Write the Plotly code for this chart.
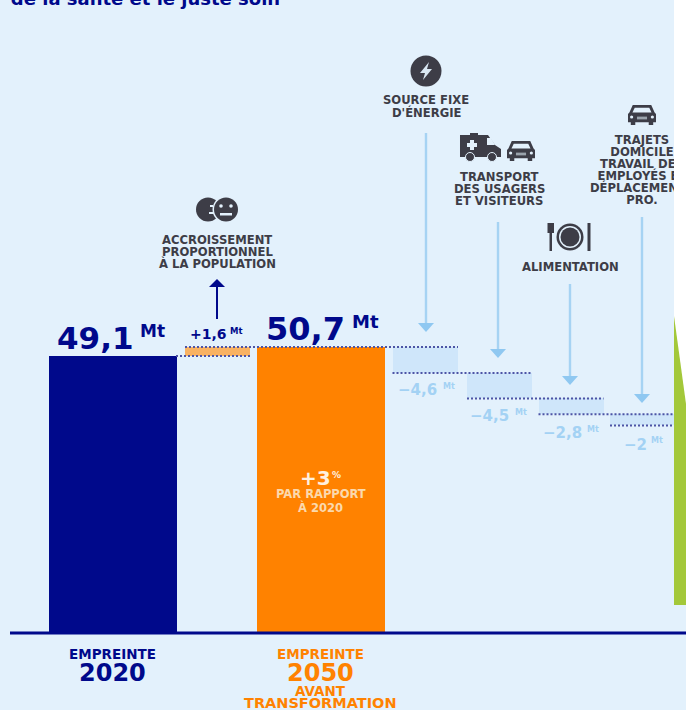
import plotly.graph_objects as go

# Carbon footprint figures, in Mt CO2e
start_label = "EMPREINTE 2020"
footprint_2020 = 49.1
growth_population = 1.6
footprint_2050 = 50.7
reduction_labels = ["SOURCE FIXE", "TRANSPORT", "ALIMENTATION", "TRAJETS"]
reduction_values = [-4.6, -4.5, -2.8, -2.0]
share_vs_2020 = "+3"

# Page and drawing constants
W, H = 686, 710
BASE_PY = 633
PX_PER_MT = 5.64

BG = "#e3f1fc"
NAVY = "#00098b"
ORANGE = "#ff8200"
LIGHT_ORANGE = "#f8b263"
STEP = "#cfe6fa"
ARROW = "#a6d3f3"
ARROW_HEAD = "#8fc8f1"
SOFT_LABEL = "#a3d2f4"
DOTS = "#4d55a6"
INK = "#3d3d47"
GREEN = "#a3c83a"
FONT = "DejaVu Sans"
CAPTION_SIZE = 11.6

# Horizontal extent of each bar
main_spans = [(49, 176.5), (257, 384.5)]
growth_span = (185, 250)
step_spans = [(392.5, 458), (467, 531.5), (538.5, 603.5), (610, 690)]


def px(x, y):
    return f"{x / W:.5f},{1 - y / H:.5f}"


def path(points, close=True):
    body = " L".join(px(x, y) for x, y in points)
    return "M" + body + (" Z" if close else "")


def polygon(points, color):
    return dict(type="path", xref="paper", yref="paper", path=path(points),
                fillcolor=color, line=dict(width=0), layer="above")


def box(x0, y0, x1, y1, color):
    return dict(type="rect", xref="paper", yref="paper", x0=x0 / W, x1=x1 / W,
                y0=1 - y0 / H, y1=1 - y1 / H, fillcolor=color,
                line=dict(width=0), layer="above")


def disc(cx, cy, r, color, ring=None, ring_width=0):
    return dict(type="circle", xref="paper", yref="paper",
                x0=(cx - r) / W, x1=(cx + r) / W,
                y0=1 - (cy + r) / H, y1=1 - (cy - r) / H, fillcolor=color,
                line=dict(width=ring_width, color=ring or color), layer="above")


def stroke(points, color, width):
    return dict(type="path", xref="paper", yref="paper", path=path(points, close=False),
                line=dict(color=color, width=width), layer="above")


def label(x, py, text, size, color=INK, weight=700, anchor="center"):
    return dict(xref="x", yref="paper", x=x, y=1 - py / H, text=text, showarrow=False,
                xanchor=anchor, yanchor="middle", align="center",
                font=dict(family=FONT, size=size, color=color, weight=weight))


def fr(value, decimals=1):
    return f"{value:.{decimals}f}".replace(".", ",")


def mid(span):
    return (span[0] + span[1]) / 2


def car(x0, y0, w, h, color=INK):
    xs = lambda t: x0 + t * w
    ys = lambda t: y0 + t * h
    return [
        polygon([(xs(.17), ys(0)), (xs(.83), ys(0)), (xs(.95), ys(.38)), (xs(1), ys(.45)),
                 (xs(1), ys(.86)), (xs(.9), ys(.86)), (xs(.9), ys(1)), (xs(.74), ys(1)),
                 (xs(.74), ys(.86)), (xs(.26), ys(.86)), (xs(.26), ys(1)), (xs(.1), ys(1)),
                 (xs(.1), ys(.86)), (xs(0), ys(.86)), (xs(0), ys(.45)), (xs(.05), ys(.38))], color),
        polygon([(xs(.24), ys(.14)), (xs(.76), ys(.14)), (xs(.84), ys(.38)), (xs(.16), ys(.38))], BG),
        box(xs(.32), ys(.58), xs(.68), ys(.72), "#9aa3ac"),
        disc(xs(.13), ys(.6), 1.6, BG),
        disc(xs(.87), ys(.6), 1.6, BG),
    ]


fig = go.Figure()

# Ground line, kept under the bars
fig.add_trace(go.Scatter(x=[10, W], y=[0, 0], mode="lines",
                         line=dict(color=NAVY, width=3), hoverinfo="skip"))

# Main bars
fig.add_trace(go.Bar(
    x=[mid(s) for s in main_spans],
    y=[footprint_2020, footprint_2050],
    width=[s[1] - s[0] for s in main_spans],
    marker=dict(color=[NAVY, ORANGE], line=dict(width=0)),
))

# Population growth step
fig.add_trace(go.Bar(
    x=[mid(growth_span)], y=[growth_population], base=[footprint_2020],
    width=[growth_span[1] - growth_span[0]],
    marker=dict(color=LIGHT_ORANGE, line=dict(width=0)),
))

# Reduction steps falling from the 2050 level
levels = [footprint_2050]
for v in reduction_values:
    levels.append(round(levels[-1] + v, 2))

fig.add_trace(go.Bar(
    x=[mid(s) for s in step_spans],
    y=reduction_values,
    base=levels[:-1],
    width=[s[1] - s[0] for s in step_spans],
    marker=dict(color=STEP, line=dict(width=0)),
))

# Dotted level guides
guides = [
    (growth_span[0] - 9, growth_span[1], footprint_2020),
    (growth_span[0], step_spans[0][1], footprint_2050),
]
for i, level in enumerate(levels[1:]):
    x_start = step_spans[i][0]
    x_end = step_spans[i + 1][1] if i + 1 < len(step_spans) else W
    guides.append((x_start, x_end, level))
for x0, x1, level in guides:
    fig.add_trace(go.Scatter(x=[x0, x1], y=[level, level], mode="lines",
                             line=dict(color=DOTS, width=2, dash="2px 2px"),
                             hoverinfo="skip"))

# Caption that runs under the white strip on the right edge
commute_lines = ["TRAJETS", "DOMICILE", "TRAVAIL DES", "EMPLOYÉS ET", "DÉPLACEMENTS", "PRO."]
commute_py = [141, 153, 165, 177, 189, 201]
fig.add_trace(go.Scatter(
    x=[642] * len(commute_lines),
    y=[(BASE_PY - p) / PX_PER_MT for p in commute_py],
    text=commute_lines, mode="text", textposition="middle center",
    textfont=dict(family=FONT, size=CAPTION_SIZE, color=INK, weight=700), hoverinfo="skip",
))

# Heading cut by the top of the page
fig.add_trace(go.Scatter(
    x=[145.5], y=[BASE_PY / PX_PER_MT], text=["de la santé et le juste soin"], mode="text",
    textposition="middle center",
    textfont=dict(family=FONT, size=18, color=NAVY, weight=700), hoverinfo="skip",
))

shapes = []

# Down arrows for each reduction
for x, top, tip in [(426, 133, 332), (498, 222, 358), (570, 284, 385), (642, 217, 403)]:
    shapes.append(stroke([(x, top), (x, tip - 6)], ARROW, 2.4))
    shapes.append(polygon([(x - 8, tip - 9), (x + 8, tip - 9), (x, tip)], ARROW_HEAD))

# Up arrow for population growth
shapes.append(stroke([(217, 319), (217, 284)], NAVY, 2))
shapes.append(polygon([(209, 287), (225, 287), (217, 279)], NAVY))

# Two faces
shapes += [
    disc(208, 209.5, 12, INK),
    box(210, 205, 213, 207, BG),
    box(209, 212, 214, 214, BG),
    disc(226, 209.5, 13.5, BG),
    disc(226, 209.5, 12, INK),
    disc(221, 206, 1.8, BG),
    disc(231, 206, 1.8, BG),
    box(220, 213, 232, 215.5, BG),
]

# Lightning bolt
shapes.append(disc(426, 71, 15.5, INK))
shapes.append(polygon([(429, 62), (420, 73), (425, 73), (423, 80), (432, 69), (427, 69)], "#d9e7f2"))

# Ambulance
shapes += [
    polygon([(460, 135), (488, 135), (495, 145), (501, 149), (501, 157), (460, 157)], INK),
    box(470, 133, 478, 136, INK),
    polygon([(487, 138), (491, 138), (495, 145), (487, 145)], BG),
    box(467, 143, 477, 147, BG),
    box(470, 140, 474, 150, BG),
    disc(470, 157, 4.5, INK, BG, 1),
    disc(492, 157, 4.5, INK, BG, 1),
]
shapes += car(507, 141, 28, 20)
shapes += car(628, 105, 28, 20)

# Plate and cutlery
shapes += [
    disc(570, 237, 13.5, INK),
    disc(570, 237, 11, BG),
    disc(570, 237, 9.5, INK),
    box(549.5, 223, 552, 251, INK),
    box(547.5, 223, 554, 233, INK),
    polygon([(587.5, 223), (590.5, 223), (590.5, 251), (587.5, 251)], INK),
]

# White strip and green wedge along the right edge
shapes += [
    box(674, 0, W, 605, "#ffffff"),
    polygon([(674, 316), (W, 404), (W, 605), (674, 605)], GREEN),
]

annotations = []

# Value labels over the two main bars
annotations += [
    label(mid(main_spans[0]) - 17, 338, fr(footprint_2020), 31, NAVY),
    label(138, 331, "Mt", 17, NAVY, anchor="left"),
    label(mid(main_spans[1]) - 15.5, 329, fr(footprint_2050), 32, NAVY),
    label(350, 321, "Mt", 18, NAVY, anchor="left"),
    label(208.5, 334, "+" + fr(growth_population), 14, NAVY),
    label(228, 331, "Mt", 8.5, NAVY, anchor="left"),
]

# Labels under the steps
step_label_spots = [(417, 390, 441, 386), (489, 416, 513, 412), (562, 433, 585, 429), (635, 445, 649, 441)]
for value, (x, py, unit_x, unit_py) in zip(reduction_values, step_label_spots):
    decimals = 0 if value == int(value) else 1
    annotations.append(label(x, py, "−" + fr(abs(value), decimals), 15, SOFT_LABEL))
    annotations.append(label(unit_x, unit_py, "Mt", 8, SOFT_LABEL, anchor="left"))

# Captions above the arrows
captions = [
    (217, [("ACCROISSEMENT", 240), ("PROPORTIONNEL", 252), ("À LA POPULATION", 264)]),
    (426, [("SOURCE FIXE", 100), ("D'ÉNERGIE", 112)]),
    (499, [("TRANSPORT", 177), ("DES USAGERS", 189), ("ET VISITEURS", 201)]),
    (570, [("ALIMENTATION", 267)]),
]
for x, rows in captions:
    for text, py in rows:
        annotations.append(label(x, py, text, CAPTION_SIZE))

# Text inside the orange bar
annotations += [
    label(315, 478, share_vs_2020, 20, "#fff1e0"),
    label(336, 475, "%", 9, "#fff1e0"),
    label(320.5, 494, "PAR RAPPORT", 11.5, "#fbd9ad"),
    label(320.5, 507, "À 2020", 11.5, "#fbd9ad"),
]

# Axis captions below the ground line
annotations += [
    label(mid(main_spans[0]), 654, "EMPREINTE", 13.5, NAVY),
    label(mid(main_spans[0]), 673, "2020", 24, NAVY),
    label(mid(main_spans[1]), 654, "EMPREINTE", 13.5, ORANGE),
    label(mid(main_spans[1]), 673, "2050", 24, ORANGE),
    label(mid(main_spans[1]), 691, "AVANT", 13.5, ORANGE),
    label(mid(main_spans[1]), 703, "TRANSFORMATION", 14.5, ORANGE),
]

fig.update_layout(
    width=W, height=H, margin=dict(l=0, r=0, t=0, b=0),
    paper_bgcolor=BG, plot_bgcolor=BG,
    showlegend=False, barmode="overlay", bargap=0,
    xaxis=dict(range=[0, W], visible=False, fixedrange=True),
    yaxis=dict(range=[(BASE_PY - H) / PX_PER_MT, BASE_PY / PX_PER_MT],
               visible=False, fixedrange=True),
    shapes=shapes, annotations=annotations,
)

fig.write_html("out.html", config=dict(displayModeBar=False))
